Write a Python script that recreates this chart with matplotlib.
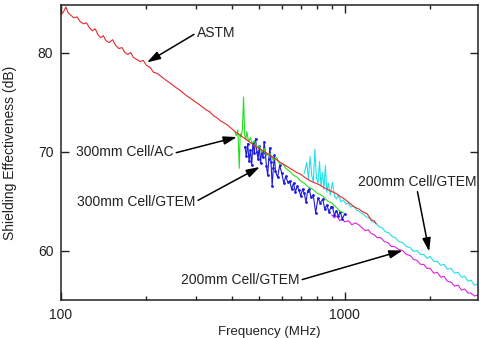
import matplotlib
matplotlib.use("Agg")
import matplotlib.pyplot as plt
from matplotlib.ticker import FixedLocator, NullFormatter, FixedFormatter

plt.rcParams['font.family'] = ['Liberation Sans', 'DejaVu Sans']

# ASTM (red)
astm_f = [100, 102, 104, 106, 108, 111, 114, 117, 120, 123, 126, 129, 132, 135, 138, 141,
          144, 148, 152, 156, 160, 164, 168, 172, 176, 180, 185, 190, 195, 200, 206, 212,
          218, 225, 232, 240, 248, 256, 265, 275, 285, 295, 305, 315, 325, 335, 345, 355,
          365, 375, 385, 400, 415, 430, 445, 460, 480, 500, 520, 540, 560, 580, 600, 625,
          650, 675, 700, 730, 760, 790, 820, 850, 880, 910, 940, 970, 1000, 1040, 1080,
          1120, 1160, 1200, 1240, 1270, 1290]
astm_se = [83.8, 84.1, 84.6, 84.0, 83.8, 83.5, 83.6, 83.1, 82.9, 83.0, 82.5, 82.2, 82.4, 81.8,
           81.5, 81.7, 81.2, 81.0, 81.3, 80.7, 80.4, 80.5, 80.0, 79.8, 80.0, 79.5, 79.3, 79.1,
           79.2, 78.7, 78.5, 78.0, 77.9, 77.6, 77.3, 77.0, 76.7, 76.4, 76.1, 75.7, 75.4, 75.1,
           74.8, 74.5, 74.2, 74.0, 73.6, 73.4, 73.1, 72.9, 72.7, 72.3, 71.9, 71.6, 71.3, 71.0,
           70.6, 70.3, 70.0, 69.7, 69.4, 69.1, 68.8, 68.5, 68.2, 67.9, 67.7, 67.3, 67.0, 66.8,
           66.6, 66.3, 66.1, 65.9, 65.7, 65.4, 65.2, 64.8, 64.4, 64.2, 63.9, 63.7, 63.1, 63.0,
           62.7]

# 300mm Cell/AC (green)
ac_f = [410, 415, 420, 425, 428, 432, 436, 440, 444, 448, 452, 458, 465, 472, 480, 490, 500,
        510, 520, 530, 545, 560, 575, 590, 605, 620, 640, 660, 680, 700, 720, 745, 770, 800,
        837, 870, 900, 930, 960, 990]
ac_se = [72.0, 71.6, 72.2, 68.3, 71.8, 71.5, 72.3, 75.5, 71.7, 71.2, 72.0, 71.0, 71.4, 70.8,
         71.1, 70.4, 70.6, 69.9, 70.3, 69.6, 69.8, 69.1, 69.4, 68.7, 68.8, 68.3, 68.0, 67.6,
         67.4, 67.0, 66.8, 66.4, 66.2, 65.8, 65.5, 65.0, 64.8, 64.4, 64.0, 63.8]

# 300mm Cell/GTEM (blue)
g300_f = [445, 450, 455, 460, 465, 470, 475, 480, 485, 490, 495, 500, 505, 510, 515, 520, 525,
          530, 535, 540, 545, 550, 555, 560, 565, 570, 580, 590, 600, 610, 620, 630, 640, 650,
          660, 670, 680, 690, 700, 710, 720, 730, 740, 750, 760, 775, 790, 805, 820, 837, 850,
          865, 880, 895, 905, 920, 935, 950, 965, 980, 1000]
g300_se = [70.5, 69.5, 70.8, 69.0, 70.2, 68.6, 70.9, 69.8, 71.3, 70.0, 69.2, 70.6, 68.8, 70.1,
           69.4, 71.0, 69.9, 68.5, 67.6, 69.2, 70.4, 68.9, 66.5, 68.3, 69.6, 68.0, 67.4, 68.6,
           67.8, 66.8, 67.5, 66.9, 67.0, 66.2, 66.8, 65.9, 66.5, 66.1, 65.5, 66.2, 65.8, 64.9,
           66.0, 66.2, 65.4, 65.6, 63.8, 65.3, 64.8, 65.2, 64.2, 64.6, 63.9, 64.4, 64.4, 63.6,
           64.0, 63.5, 63.9, 63.2, 63.7]

# 200mm Cell/GTEM, upper (cyan)
g200a_f = [720, 735, 745, 755, 765, 775, 785, 795, 805, 815, 825, 835, 845, 855, 865, 875, 890,
           905, 920, 935, 950, 970, 990, 1010, 1030, 1050, 1075, 1100, 1130, 1160, 1190, 1220,
           1250, 1285, 1320, 1355, 1390, 1430, 1470, 1510, 1550, 1600, 1650, 1700, 1750, 1800,
           1850, 1900, 1950, 2000, 2060, 2120, 2180, 2240, 2300, 2370, 2440, 2510, 2580, 2650,
           2720, 2790, 2860, 2950]
g200a_se = [67.8, 68.9, 67.2, 69.5, 67.6, 66.9, 70.2, 67.3, 66.8, 69.0, 66.5, 67.9, 66.2, 68.6,
            65.9, 66.8, 65.6, 66.9, 65.5, 65.2, 65.6, 64.9, 65.1, 64.7, 64.8, 64.4, 64.5, 64.1,
            63.9, 63.7, 63.4, 63.3, 62.9, 62.8, 62.4, 62.3, 61.9, 61.8, 61.4, 61.3, 60.9, 60.8,
            60.4, 60.3, 59.9, 60.0, 59.6, 59.6, 59.2, 59.4, 58.9, 58.9, 58.5, 58.6, 58.1, 58.2,
            57.7, 57.8, 57.3, 57.4, 56.9, 57.0, 56.5, 56.6]

# 200mm Cell/GTEM, lower (magenta)
g200b_f = [900, 920, 940, 960, 980, 1000, 1030, 1060, 1090, 1120, 1150, 1180, 1210, 1240, 1270,
           1300, 1340, 1380, 1420, 1460, 1500, 1550, 1600, 1650, 1700, 1750, 1800, 1850, 1900,
           1950, 2000, 2060, 2120, 2180, 2240, 2300, 2370, 2440, 2510, 2580, 2650, 2720, 2790,
           2860, 2950]
g200b_se = [63.6, 63.3, 63.5, 63.0, 63.2, 62.9, 63.0, 62.6, 62.8, 62.6, 62.3, 62.0, 62.1, 61.7,
            61.6, 61.3, 61.3, 60.9, 60.8, 60.4, 60.4, 60.1, 60.0, 59.6, 59.5, 59.1, 59.0, 58.6,
            58.6, 58.2, 58.2, 57.7, 57.8, 57.3, 57.4, 56.9, 56.8, 56.4, 56.5, 56.0, 56.1, 55.7,
            55.7, 55.4, 55.5]

fig = plt.figure(figsize=(4.81, 3.38), dpi=100)
ax = fig.add_axes([61 / 481, 38 / 338, 417 / 481, 295 / 338])

ax.plot(g200b_f, g200b_se, color='#e020e0', lw=0.8)
ax.plot(g200a_f, g200a_se, color='#20e0e8', lw=0.8)
ax.plot(g300_f, g300_se, color='#1c1cdc', lw=0.8, marker='.', ms=2)
ax.plot(ac_f, ac_se, color='#22e022', lw=0.8)
ax.plot(astm_f, astm_se, color='#e82828', lw=0.8)

ax.set_xscale('log')
ax.set_xlim(100, 2950)
ax.set_ylim(55, 84.8)

ax.xaxis.set_major_locator(FixedLocator([100, 1000]))
ax.xaxis.set_major_formatter(FixedFormatter(['100', '1000']))
ax.xaxis.set_minor_locator(FixedLocator([200, 300, 400, 500, 600, 700, 800, 900, 2000]))
ax.xaxis.set_minor_formatter(NullFormatter())
ax.yaxis.set_major_locator(FixedLocator([60, 70, 80]))

ax.tick_params(which='both', direction='in', top=True, right=True, width=1.0,
               labelsize=10, pad=5.5, colors='#222222')
ax.tick_params(which='major', length=6)
ax.tick_params(which='minor', length=3.2)
for s in ax.spines.values():
    s.set_linewidth(1.1)
    s.set_color('#222222')

ax.set_xlabel('Frequency (MHz)', fontsize=9.5, color='#222222')
ax.set_ylabel('Shielding Effectiveness (dB)', fontsize=10, color='#222222')
ax.xaxis.set_label_coords(0.5, -0.088)
ax.yaxis.set_label_coords(-0.105, 0.5)

def note(txt, xy, xytext, rel, ha='left'):
    ax.annotate(txt, xy=xy, xytext=xytext, ha=ha, va='center', fontsize=10,
                color='#222222',
                arrowprops=dict(arrowstyle='-|>,head_length=0.8,head_width=0.25',
                                color='black', lw=1.1, relpos=rel,
                                shrinkA=0, shrinkB=0))

note('ASTM', (201, 79.0), (301, 82.0), (0, 0.5))
note('300mm Cell/AC', (417, 71.46), (112.9, 69.95), (1, 0.4))
note('300mm Cell/GTEM', (502, 68.44), (113.8, 64.92), (1, 0.5))
note('200mm Cell/GTEM', (1600, 60.0), (264.5, 56.98), (1, 0.5))
note('200mm Cell/GTEM', (1985, 59.9), (1111, 66.93), (0.5, 0))

fig.savefig('out.png', dpi=100)
